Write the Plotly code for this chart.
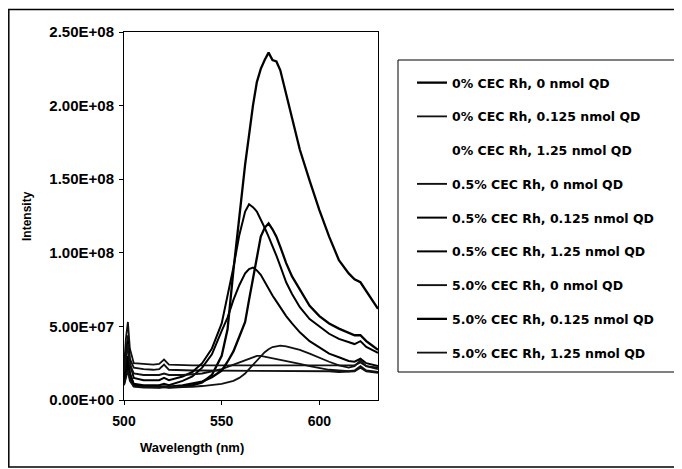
import plotly.graph_objects as go

# Shared wavelength grid (nm)
wavelength = [500, 501, 502, 503, 505, 510, 515, 518, 520.5, 523, 530, 535, 540, 545,
              550, 553, 556, 559, 562, 564, 566, 568, 570, 572, 574, 576, 578, 580,
              583, 586, 590, 595, 600, 605, 610, 615, 618, 621, 624, 627, 630]

# Intensities in units of 1e6
s_0_0 = [12, 20, 27, 18, 10, 9, 8.5, 8.5, 9, 8.5, 9, 10, 12, 17,
         30, 48, 88, 125, 160, 180, 200, 216, 225, 231, 236, 231, 230, 224,
         208, 190, 170, 149, 129, 111, 95, 86, 82, 80, 74, 68, 62]
s_0_0125 = [22, 42, 53, 35, 25, 24.5, 24, 24.5, 27.5, 24, 23.5, 23.5, 23.5, 23.5,
            23.5, 23.5, 23.5, 23.5, 23.5, 23.5, 23.5, 23.5, 23.5, 23.5, 23.5, 23.5, 23.5, 23.5,
            23.5, 23.5, 23.5, 23.5, 23.5, 23, 23, 23, 23.5, 25.5, 23, 22.5, 22]
s_0_125 = [15, 25, 33, 21, 15.5, 15, 15, 15, 16, 15, 15, 15, 15, 15,
           15, 15, 15, 15, 15, 15, 15, 15, 15, 15, 15, 15, 15, 15,
           15, 15, 15, 15, 15, 15, 15, 15, 15, 16, 15, 15, 15]
s_05_0 = [18, 32, 44, 28, 22, 21, 20.5, 21, 24, 20.5, 20, 20, 20, 20,
          20, 20, 20, 20, 20, 20, 20, 20, 19.8, 19.8, 19.8, 19.8, 19.8, 19.8,
          19.7, 19.7, 19.6, 19.5, 19.5, 19.5, 19, 19, 19.5, 22, 19.5, 19, 18.5]
s_05_0125 = [16, 28, 40, 25, 15, 13.5, 13.5, 13.5, 15, 13.5, 16, 19, 25, 35,
             52, 70, 90, 112, 128, 133, 131, 128, 123, 117, 111, 105, 98, 91,
             80, 72, 63, 55, 50, 45, 41.5, 39, 38, 40, 36, 34, 32]
s_05_125 = [12, 22, 30, 18, 11, 10, 10, 10, 11, 10, 13, 16, 22, 31,
            47, 56, 68, 78, 86, 89, 90, 88, 85, 80, 76, 71, 67, 63,
            57, 52, 46, 40, 35.5, 31.5, 29, 26.5, 26, 28, 25, 24, 23]
s_5_0 = [19, 30, 38, 24, 18, 17, 17, 17, 18, 17, 17, 17.5, 18, 19.5,
         21, 22.5, 24, 26, 27.5, 28.5, 29.5, 30, 30, 29.5, 29, 28.5, 28, 27.5,
         26.5, 25.5, 24.5, 23, 21.5, 20.5, 20, 19.5, 20, 23, 20, 19.5, 19]
s_5_0125 = [11, 18, 24, 15, 9.5, 9, 9, 9, 9.5, 9, 10, 11, 12.5, 15.5,
            20, 26, 33, 43, 53, 68, 83, 98, 111, 117, 120, 116, 111, 104,
            93, 84, 75, 64, 57, 52, 48.5, 45.5, 44, 44, 40, 37, 34]
s_5_125 = [10, 15, 20, 13, 9, 8.5, 8.5, 8.5, 9, 8.5, 9, 9, 9.5, 10,
           11, 12, 13, 15, 18, 21, 24, 27, 30, 32.5, 34.5, 36, 36.5, 37,
           36.5, 35.5, 34, 31.5, 28.5, 26, 23.5, 22, 23, 27, 23, 22, 21]

series_names = ["0% CEC Rh, 0 nmol QD", "0% CEC Rh, 0.125 nmol QD", "0% CEC Rh, 1.25 nmol QD",
                "0.5% CEC Rh, 0 nmol QD", "0.5% CEC Rh, 0.125 nmol QD", "0.5% CEC Rh, 1.25 nmol QD",
                "5.0% CEC Rh, 0 nmol QD", "5.0% CEC Rh, 0.125 nmol QD", "5.0% CEC Rh, 1.25 nmol QD"]
series_values = [s_0_0, s_0_0125, s_0_125, s_05_0, s_05_0125, s_05_125, s_5_0, s_5_0125, s_5_125]
line_colors = ["#000000", "#111111", "rgba(0,0,0,0)", "#111111", "#000000",
               "#000000", "#111111", "#000000", "#111111"]
line_widths = [2.3, 1.8, 1.8, 1.9, 2.0, 2.0, 1.9, 2.3, 1.8]

y_tickvals = [0, 5e7, 1e8, 1.5e8, 2e8, 2.5e8]
y_ticktext = ["0.00E+00", "5.00E+07", "1.00E+08", "1.50E+08", "2.00E+08", "2.50E+08"]
x_tickvals = [500, 550, 600]

fig = go.Figure()
for i, (name, vals) in enumerate(zip(series_names, series_values)):
    fig.add_trace(go.Scatter(
        x=wavelength, y=[v * 1e6 for v in vals], mode="lines", name=name,
        legendgroup="g%d" % i,
        line=dict(color=line_colors[i], width=line_widths[i]),
    ))

W, H = 682, 469
OFF = 8  # page body margin
# plot area in screen pixels
SL, SR, ST, SB = 124, 378, 32, 400
L, R, T, B = SL - OFF, SR - OFF, ST - OFF, SB - OFF
pw, ph = R - L, B - T

def px(xs):
    return (xs - OFF - L) / pw

def py(ys):
    return (B - (ys - OFF)) / ph

xtickfont = dict(family="Liberation Sans, Arial, sans-serif", size=14, color="black", weight="bold")
ytickfont = dict(family="Liberation Sans, Arial, sans-serif", size=15, color="black", weight="bold")

fig.update_layout(
    width=W, height=H,
    margin=dict(l=L, r=W - R, t=T, b=H - B),
    paper_bgcolor="white", plot_bgcolor="white",
    showlegend=True,
    legend=dict(
        x=px(412), y=py(68), xanchor="left", yanchor="top",
        bgcolor="rgba(0,0,0,0)", borderwidth=0,
        font=dict(family="DejaVu Sans, Verdana, sans-serif", size=12.5, color="black", weight="bold"),
        tracegroupgap=14.5,
    ),
    xaxis=dict(
        range=[500, 630], tickvals=x_tickvals, ticks="outside", ticklen=4, tickcolor="black",
        showline=True, linecolor="black", linewidth=1, mirror=True, showgrid=False, zeroline=False,
        tickfont=xtickfont, ticklabelstandoff=4,
    ),
    yaxis=dict(
        range=[0, 2.5e8], tickvals=y_tickvals, ticktext=y_ticktext, ticks="outside", ticklen=4,
        tickcolor="black", showline=True, linecolor="black", linewidth=1, mirror=True,
        showgrid=False, zeroline=False, tickfont=ytickfont, ticklabelstandoff=2,
    ),
    shapes=[
        dict(type="rect", xref="paper", yref="paper", x0=px(398), x1=px(1200), y0=py(372), y1=py(60),
             line=dict(color="black", width=1)),
        dict(type="rect", xref="paper", yref="paper", x0=px(8.8), x1=px(1200), y0=py(467), y1=py(9.5),
             line=dict(color="black", width=1.5)),
    ],
    annotations=[
        dict(text="Wavelength (nm)", xref="paper", yref="paper", x=px(192), y=py(447),
             xanchor="center", yanchor="middle",
             showarrow=False, font=dict(family="Liberation Sans, Arial, sans-serif", size=13,
                                        color="black", weight="bold")),
        dict(text="Intensity", xref="paper", yref="paper", x=px(27), y=py(216), textangle=-90,
             xanchor="center", yanchor="middle",
             showarrow=False, font=dict(family="Liberation Sans, Arial, sans-serif", size=12,
                                        color="black", weight="bold")),
    ],
)

fig.write_html("out.html")
